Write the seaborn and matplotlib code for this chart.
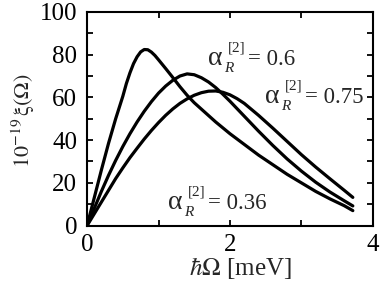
import numpy as np
import pandas as pd
import matplotlib
matplotlib.use("Agg")
import matplotlib.pyplot as plt
import seaborn as sns

# ---------------------------------------------------------------------------
# data
# ---------------------------------------------------------------------------
x_036 = [0, 0.1, 0.2, 0.3, 0.4, 0.5, 0.55, 0.6, 0.65, 0.7, 0.75, 0.8, 0.85,
         0.9, 0.95, 1.0, 1.1, 1.2, 1.3, 1.4, 1.5, 1.6, 1.8, 2.0, 2.2, 2.4,
         2.6, 2.8, 3.0, 3.2, 3.4, 3.6, 3.72]
y_036 = [0, 13, 26, 38.5, 50, 60.5, 66.5, 71.5, 75.8, 79, 81.3, 82.4, 82.3,
         81.2, 79.6, 77.6, 73.5, 69.3, 65, 61, 57.5, 54.5, 48.5, 43, 38, 33,
         28.5, 24, 20, 16, 12.5, 9.3, 7]

x_060 = [0, 0.1, 0.2, 0.3, 0.4, 0.5, 0.6, 0.7, 0.8, 0.9, 1.0, 1.1, 1.2,
         1.3, 1.4, 1.5, 1.6, 1.7, 1.8, 1.9, 2.0, 2.2, 2.4, 2.6, 2.8, 3.0,
         3.2, 3.4, 3.6, 3.72]
y_060 = [0, 8, 16, 23.5, 30.5, 37, 43, 48.5, 53.5, 58, 62, 65.3, 68,
         70, 71, 70.6, 69.2, 67.2, 64.6, 61.5, 58.2, 51.2, 44.2, 37.5, 31.2, 25.5,
         20.3, 15.7, 11.6, 9.2]

x_075 = [0, 0.1, 0.2, 0.3, 0.4, 0.5, 0.6, 0.7, 0.8, 0.9, 1.0, 1.1, 1.2,
         1.3, 1.4, 1.5, 1.6, 1.7, 1.8, 1.9, 2.0, 2.1, 2.2, 2.4, 2.6, 2.8,
         3.0, 3.2, 3.4, 3.6, 3.72]
y_075 = [0, 5.5, 11, 16.5, 22, 27, 31.8, 36.2, 40.5, 44.5, 48.2, 51.6, 54.6,
         57.2, 59.3, 61, 62.2, 62.9, 63, 62.4, 61.2, 59.4, 57.2, 51.6, 45.6, 39.4,
         33.2, 27.4, 21.9, 16.5, 13.2]

alphas = ["0.36", "0.6", "0.75"]
# where each curve label sits (left edge of alpha, baseline), data units
label_pos = {"0.6": (1.69, 75.1), "0.75": (2.49, 57.3), "0.36": (1.13, 7.7)}

frames = []
for a, xs, ys in zip(alphas, [x_036, x_060, x_075], [y_036, y_060, y_075]):
    frames.append(pd.DataFrame({"omega": xs, "xi": ys, "alpha": a}))
df = pd.concat(frames, ignore_index=True)

# ---------------------------------------------------------------------------
# style
# ---------------------------------------------------------------------------
sns.set_theme(style="ticks")
plt.rcParams["font.family"] = ["Liberation Serif", "DejaVu Serif"]
plt.rcParams["mathtext.fontset"] = "stix"

fig = plt.figure(figsize=(3.82, 2.98), dpi=100)
ax = fig.add_axes([0.228, 0.243, 0.748, 0.717])

sns.lineplot(data=df, x="omega", y="xi", hue="alpha",
             palette=["black"] * 3, linewidth=2.3, legend=False,
             estimator=None, ax=ax)

ax.set_xlim(0, 4)
ax.set_ylim(0, 100)
ax.set_xticks([0, 2, 4])
ax.set_xticks([1, 3], minor=True)
ax.set_yticks([0, 20, 40, 60, 80, 100])
ax.set_yticks([10, 30, 50, 70, 90], minor=True)
ax.tick_params(which="both", direction="in", top=True, right=True,
               length=4, width=1.3, labelsize=18, colors="black")
ax.tick_params(axis="y", pad=7)
ax.tick_params(axis="x", pad=6)
for sp in ax.spines.values():
    sp.set_linewidth(1.5)
    sp.set_color("black")

ax.set_xlabel(r"$\hbar\Omega$ [meV]", fontsize=18)
ax.xaxis.set_label_coords(0.538, -0.14)
ax.set_ylabel(r"$10^{-19}\,\mathrm{\xi}(\Omega)$", fontsize=16)
ax.yaxis.set_label_coords(-0.175, 0.49)


# curve labels: big upright alpha, small italic R below, small [2] above
def px(p):
    return p * 0.72  # pixels -> points at 100 dpi


for a in alphas:
    x0, y0 = label_pos[a]
    kw = dict(xy=(x0, y0), xycoords="data", textcoords="offset points",
              va="baseline", ha="left")
    ax.annotate("α", xytext=(0, 0), fontsize=20, **kw)
    ax.annotate("R", xytext=(px(16), px(-7)), fontsize=11, style="italic", **kw)
    ax.annotate("[2]", xytext=(px(20), px(14)), fontsize=11, **kw)
    ax.annotate("= " + a, xytext=(px(40), 0), fontsize=16.5, **kw)

plt.savefig("out.png", dpi=100)
